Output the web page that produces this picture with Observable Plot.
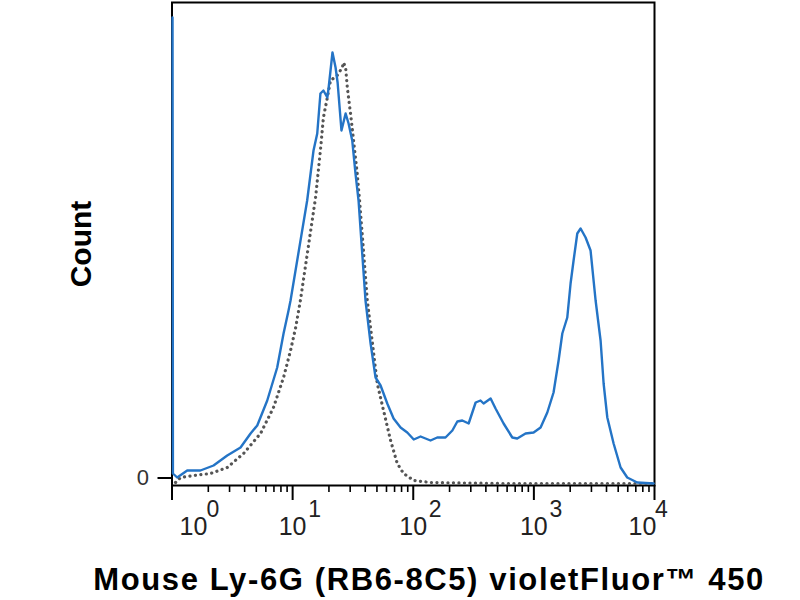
<!DOCTYPE html>
<html>
<head>
<meta charset="utf-8">
<script src="https://cdn.jsdelivr.net/npm/d3@7"></script>
<script src="https://cdn.jsdelivr.net/npm/@observablehq/plot@0.6"></script>
<style>
  html, body { margin: 0; padding: 0; background: #fff; }
</style>
</head>
<body>
<div id="chart"></div>
<script>
// Stained sample (blue solid line): fluorescence intensity and count
const stainedX = [1.01, 1.018, 1.104, 1.337, 1.72, 2.21, 2.87, 3.70, 4.48, 5.09, 6.16, 7.45, 8.41, 9.25, 9.61,
  13.2, 14.9, 16.0, 17.0, 18.0, 19.4, 19.9, 21.4, 22.7, 23.6, 25.4, 27.5, 29.1, 31.2, 33.2, 35.2,
  40.2, 44.3, 48.7, 53.6, 60.9, 68.7, 78.5, 89.2, 101, 115, 139, 158, 185, 211, 232, 255, 288,
  329, 361, 383, 438, 481, 561, 662, 728, 853, 995, 1137, 1292, 1456, 1603, 1721, 1892, 2015,
  2134, 2290, 2440, 2684, 2951, 3249, 3573, 3786, 4063, 4581, 5235, 5945, 7197, 9835];
const stainedY = [468, 12, 8, 15, 15, 20, 30, 38, 52, 60, 85, 118, 152, 175, 185,
  285, 335, 352, 392, 395, 388, 398, 433, 418, 403, 355, 372, 362, 345, 312, 285,
  185, 142, 108, 100, 82, 67, 58, 53, 46, 49, 45, 48, 48, 55, 64, 65, 62,
  83, 85, 82, 87, 77, 62, 48, 47, 52, 53, 58, 73, 93, 125, 152, 168, 202,
  225, 252, 257, 248, 235, 185, 145, 102, 68, 42, 18, 8, 3, 2];

// Isotype control (gray dotted line)
const controlX = [1.07, 1.18, 1.51, 2.09, 2.87, 3.92, 5.42, 6.94, 8.41, 9.61, 10.6, 11.6, 15.5, 17.0,
  18.0, 19.4, 20.6, 23.4, 25.8, 26.4, 27.5, 28.4, 30.2, 32.0, 34.3, 35.9, 41.6, 50.3, 56.7,
  64.9, 73.7, 83.1, 101, 139, 530, 3573, 9835];
const controlY = [3, 8, 10, 12, 18, 32, 52, 78, 108, 135, 158, 185, 288, 335,
  368, 388, 405, 410, 418, 423, 418, 398, 372, 345, 312, 285, 185, 102, 75,
  45, 22, 12, 5, 3, 2, 2, 2];

// Axis ticks and labels
const majorTicks = [1, 10, 100, 1000, 10000];
const exponents = ["0", "1", "2", "3", "4"];
const minorTicks = [2, 3, 4, 5, 6, 7, 8, 9, 20, 30, 40, 50, 60, 70, 80, 90,
  200, 300, 400, 500, 600, 700, 800, 900, 2000, 3000, 4000, 5000, 6000, 7000, 8000, 9000];
const yTicks = [0];
const xTitle = "Mouse Ly-6G (RB6-8C5) violetFluor™ 450";
const yTitle = "Count";

const stained = stainedX.map((x, i) => ({x, y: stainedY[i]}));
const control = controlX.map((x, i) => ({x, y: controlY[i]}));
const labels = majorTicks.map((v, i) => ({v, e: exponents[i], i}));
const first = labels.filter(d => d.i === 0);
const middle = labels.filter(d => d.i > 0 && d.i < labels.length - 1);
const last = labels.filter(d => d.i === labels.length - 1);

const labelColor = "#222";
const baseFont = 25, expFont = 23;

function tickLabels(data, dxBase, dxExp) {
  return [
    Plot.text(data, {x: "v", y: 0, text: () => "10", dx: dxBase, dy: 41, fontSize: baseFont, fill: labelColor, lineAnchor: "middle"}),
    Plot.text(data, {x: "v", y: 0, text: "e", dx: dxExp, dy: 24.5, fontSize: expFont, fill: labelColor, lineAnchor: "middle"})
  ];
}

const chart = Plot.plot({
  width: 800,
  height: 600,
  marginLeft: 171.5,
  marginRight: 146,
  marginTop: 2,
  marginBottom: 115,
  style: {fontFamily: "'Liberation Sans', Arial, sans-serif", background: "#fff"},
  x: {type: "log", domain: [1, 10000], axis: null},
  y: {domain: [0, 483]},
  marks: [
    Plot.frame({stroke: "#000", strokeWidth: 2}),
    Plot.ruleX(majorTicks, {x: d => d, y1: 0, y2: -15, stroke: "#000", strokeWidth: 2}),
    Plot.ruleX(minorTicks, {x: d => d, y1: 0, y2: -7, stroke: "#000", strokeWidth: 1.6}),
    Plot.axisY({ticks: yTicks, tickSize: 14, tickPadding: 9, dy: -7.5, fontSize: 22, label: null, strokeWidth: 2, stroke: "#000", fill: "#333"}),
    Plot.line(control, {x: "x", y: "y", stroke: "#555", strokeWidth: 3.2, strokeDasharray: "0.1 5.4", strokeLinecap: "round"}),
    Plot.line(stained, {x: "x", y: "y", stroke: "#2474c6", strokeWidth: 2.4, strokeLinejoin: "round"}),
    ...tickLabels(first, 21.5, 41),
    ...tickLabels(middle, 0, 22),
    ...tickLabels(last, -12, 7),
    Plot.text([yTitle], {frameAnchor: "left", textAnchor: "middle", lineAnchor: "middle", dx: -91, rotate: -90, fontSize: 30, fontWeight: "bold", fill: "#000", text: d => d}),
    Plot.text([xTitle], {frameAnchor: "bottom", textAnchor: "middle", lineAnchor: "middle", dx: 15, dy: 94.5, fontSize: 31, fontWeight: "bold", fill: "#000", text: d => d})
  ]
});

document.getElementById("chart").appendChild(chart);
d3.select(chart).selectAll("text")
  .filter(function() { return this.textContent === xTitle; })
  .attr("textLength", 670)
  .attr("lengthAdjust", "spacing");
</script>
</body>
</html>
